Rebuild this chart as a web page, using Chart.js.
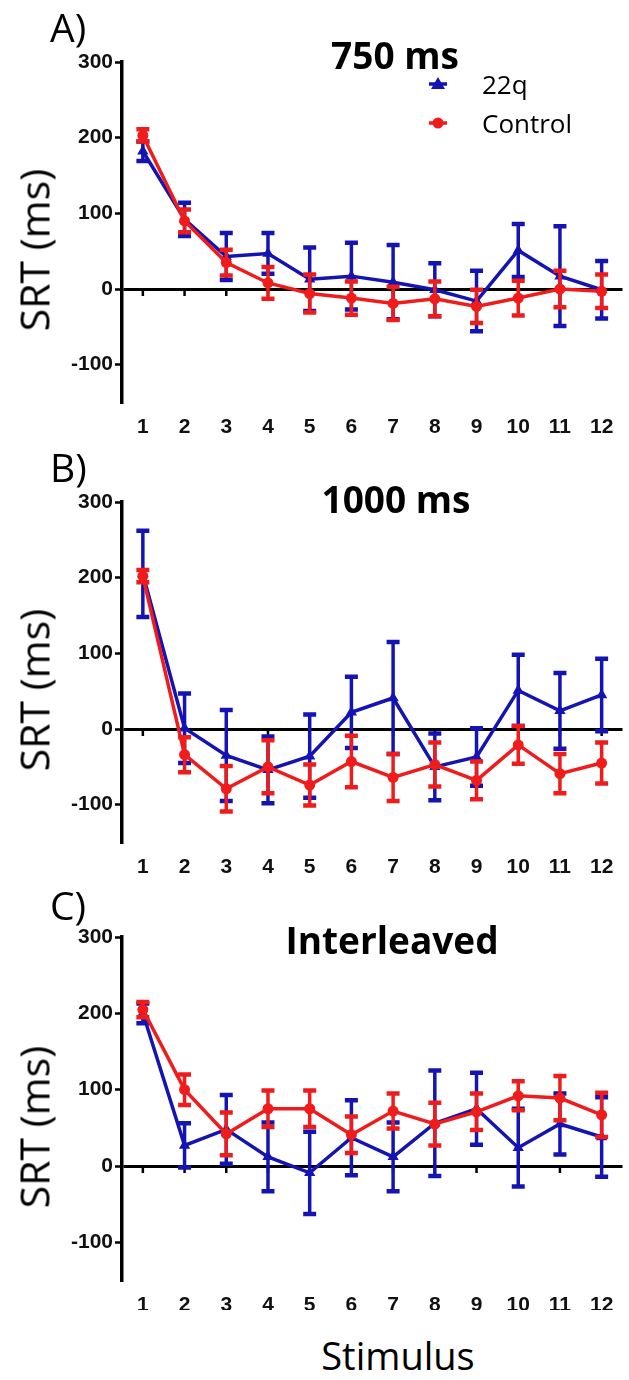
<!DOCTYPE html>
<html>
<head>
<meta charset="utf-8">
<script src="https://cdn.jsdelivr.net/npm/chart.js@4.4.0/dist/chart.umd.min.js"></script>
<style>
    body { margin: 0; background: #fff; width: 629px; height: 1380px; position: relative; overflow: hidden; font-family: 'Open Sans', sans-serif; }
    canvas { position: absolute; left: 0; }
    .txt { position: absolute; line-height: 1; white-space: nowrap; color: #000; }
    .letter { font-size: 39px; left: 50px; transform: translateY(-50%); }
    .title { font-size: 37px; font-weight: bold; transform: translate(-50%, -50%); }
    .ytitle { font-size: 41px; left: 34px; transform: translate(-50%, -50%) rotate(-90deg); }
    .legend { position: absolute; left: 426px; font-size: 26px; }
    .legend div { position: absolute; left: 0; height: 30px; width: 160px; }
    .legend svg { position: absolute; left: 0; top: 5px; }
    .legend span { position: absolute; left: 56px; top: 0; line-height: 30px; }
</style>
</head>
<body>
<canvas id="chart750"></canvas>
<canvas id="chart1000"></canvas>
<canvas id="chartInter"></canvas>

<div class="txt letter" style="top:26px">A)</div>
<div class="txt letter" style="top:466px">B)</div>
<div class="txt letter" style="top:904px">C)</div>

<div class="txt title" style="left:395px;top:54px">750 ms</div>
<div class="txt title" style="left:396px;top:498px">1000 ms</div>
<div class="txt title" style="left:392px;top:939px">Interleaved</div>

<div class="txt ytitle" style="top:250px">SRT (ms)</div>
<div class="txt ytitle" style="top:690px">SRT (ms)</div>
<div class="txt ytitle" style="top:1127px">SRT (ms)</div>

<div class="txt" style="left:398px;top:1355px;font-size:38px;transform:translate(-50%,-50%)">Stimulus</div>

<div class="legend" style="top:0">
    <div style="top:69px">
        <svg width="24" height="20"><line x1="3" y1="10" x2="21" y2="10" stroke="#1414b4" stroke-width="3.5"/><polygon points="12,3 19,15 5,15" fill="#1414b4"/></svg>
        <span>22q</span>
    </div>
    <div style="top:108px">
        <svg width="24" height="20"><line x1="3" y1="10" x2="21" y2="10" stroke="#f01c1c" stroke-width="3.5"/><circle cx="12" cy="10" r="5.5" fill="#f01c1c"/></svg>
        <span>Control</span>
    </div>
</div>

<script>
// x categories and y tick values
const stimuli = ['1', '2', '3', '4', '5', '6', '7', '8', '9', '10', '11', '12'];
const yTickValues = [-100, 0, 100, 200, 300];

// A) 750 ms
const mean22q750 = [182, 92, 43, 47, 13, 17, 9, -1, -16, 51, 17, -1];
const sem22q750 = [13, 22, 31, 27, 42, 44, 49, 35, 40, 35, 66, 38];
const meanControl750 = [203, 90, 35, 8, -6, -12, -19, -13, -23, -12, 0, -3];
const semControl750 = [8, 15, 17, 21, 25, 22, 22, 23, 22, 23, 24, 22];

// B) 1000 ms
const mean22q1000 = [205, 1, -35, -54, -36, 22, 41, -50, -37, 51, 24, 45];
const sem22q1000 = [57, 46, 60, 44, 55, 47, 74, 44, 38, 47, 50, 48];
const meanControl1000 = [202, -34, -79, -50, -74, -43, -64, -47, -68, -21, -59, -45];
const semControl1000 = [8, 23, 30, 35, 27, 34, 31, 29, 25, 25, 26, 27];

// C) Interleaved
const mean22qInter = [200, 27, 48, 12, -9, 37, 12, 56, 75, 24, 55, 38];
const sem22qInter = [13, 29, 45, 45, 54, 49, 45, 69, 47, 51, 40, 52];
const meanControlInter = [205, 100, 42, 75, 75, 41, 72, 55, 71, 92, 89, 67];
const semControlInter = [10, 20, 28, 24, 24, 24, 23, 28, 24, 19, 29, 29];

const colour22q = '#1414b4';
const colourControl = '#f01c1c';

// vertical error bars with caps, drawn under each dataset's line
const errorBars = {
    id: 'errorBars',
    beforeDatasetDraw(chart, args) {
        const ds = chart.data.datasets[args.index];
        if (!ds.errors) return;
        const ctx = chart.ctx;
        const y = chart.scales.y;
        ctx.save();
        ctx.strokeStyle = ds.borderColor;
        args.meta.data.forEach((pt, i) => {
            const top = y.getPixelForValue(ds.data[i] + ds.errors[i]);
            const bot = y.getPixelForValue(ds.data[i] - ds.errors[i]);
            ctx.lineWidth = 3.5;
            ctx.beginPath();
            ctx.moveTo(pt.x, top);
            ctx.lineTo(pt.x, bot);
            ctx.stroke();
            ctx.lineWidth = 4.5;
            ctx.beginPath();
            ctx.moveTo(pt.x - 6.5, top);
            ctx.lineTo(pt.x + 6.5, top);
            ctx.moveTo(pt.x - 6.5, bot);
            ctx.lineTo(pt.x + 6.5, bot);
            ctx.stroke();
        });
        ctx.restore();
    }
};

// small tick marks hanging from the zero line
const zeroTicks = {
    id: 'zeroTicks',
    beforeDatasetsDraw(chart) {
        const ctx = chart.ctx;
        const y0 = chart.scales.y.getPixelForValue(0);
        ctx.save();
        ctx.strokeStyle = '#000';
        ctx.lineWidth = 2.5;
        chart.data.labels.forEach((lab, i) => {
            const x = chart.scales.x.getPixelForValue(i);
            ctx.beginPath();
            ctx.moveTo(x, y0);
            ctx.lineTo(x, y0 + 7);
            ctx.stroke();
        });
        ctx.restore();
    }
};

const tickFont = { family: "'Liberation Sans', Arial, sans-serif", size: 21, weight: 'bold' };

function makePanel(id, canvasTop, canvasHeight, plotTop, plotBottom, m22q, e22q, mCtl, eCtl) {
    const canvas = document.getElementById(id);
    canvas.width = 629;
    canvas.height = canvasHeight;
    canvas.style.top = canvasTop + 'px';
    const xAxisHeight = 40;

    return new Chart(canvas.getContext('2d'), {
        type: 'line',
        data: {
            labels: stimuli,
            datasets: [
                {
                    label: '22q',
                    data: m22q,
                    errors: e22q,
                    borderColor: colour22q,
                    backgroundColor: colour22q,
                    borderWidth: 3.5,
                    pointStyle: 'triangle',
                    pointRadius: 6.5,
                    pointBorderWidth: 0,
                    tension: 0,
                    order: 2
                },
                {
                    label: 'Control',
                    data: mCtl,
                    errors: eCtl,
                    borderColor: colourControl,
                    backgroundColor: colourControl,
                    borderWidth: 3.5,
                    pointStyle: 'circle',
                    pointRadius: 5.5,
                    pointBorderWidth: 0,
                    tension: 0,
                    order: 1
                }
            ]
        },
        options: {
            responsive: false,
            animation: false,
            devicePixelRatio: 1,
            layout: {
                padding: {
                    top: plotTop - canvasTop,
                    bottom: canvasTop + canvasHeight - plotBottom - xAxisHeight,
                    left: 0,
                    right: 0
                }
            },
            plugins: {
                legend: { display: false },
                tooltip: { enabled: false }
            },
            scales: {
                x: {
                    type: 'category',
                    offset: true,
                    grid: { display: false, drawTicks: false },
                    border: { display: false },
                    ticks: { font: tickFont, color: '#111', padding: 12, autoSkip: false, maxRotation: 0 },
                    afterFit(scale) { scale.height = xAxisHeight; }
                },
                y: {
                    min: -150,
                    max: 300,
                    afterBuildTicks(scale) { scale.ticks = yTickValues.map(v => ({ value: v })); },
                    afterFit(scale) { scale.width = 122; },
                    border: { display: true, color: '#000', width: 3.5 },
                    grid: {
                        color: c => (c.tick && c.tick.value === 0 ? '#000' : 'rgba(0,0,0,0)'),
                        lineWidth: 3,
                        tickColor: '#000',
                        tickWidth: 2.5,
                        tickLength: 7
                    },
                    ticks: { font: tickFont, color: '#111', padding: 2 }
                }
            }
        },
        plugins: [zeroTicks, errorBars]
    });
}

makePanel('chart750', 0, 450, 62, 402.5, mean22q750, sem22q750, meanControl750, semControl750);
makePanel('chart1000', 450, 440, 502, 842.5, mean22q1000, sem22q1000, meanControl1000, semControl1000);
makePanel('chartInter', 890, 420, 937, 1280.5, mean22qInter, sem22qInter, meanControlInter, semControlInter);
</script>
</body>
</html>
